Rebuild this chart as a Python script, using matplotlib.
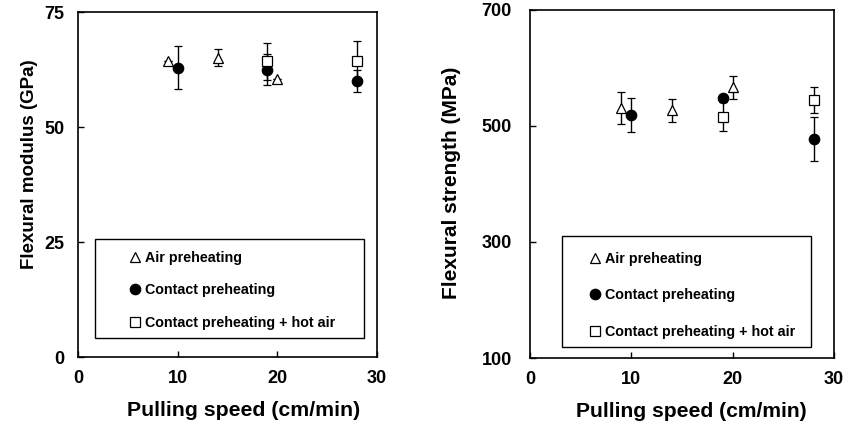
import numpy as np
import matplotlib.pyplot as plt
from matplotlib.patches import Rectangle

plt.rcParams['font.family'] = ['Liberation Sans', 'DejaVu Sans']
plt.rcParams['font.weight'] = 'bold'

# series labels
labels = ['Air preheating', 'Contact preheating', 'Contact preheating + hot air']

# flexural modulus (GPa)
air_speed = [9, 14, 20]
air_mod = [64.3, 65.1, 60.4]
air_mod_err = [0, 1.8, 0]
con_speed = [10, 19, 28]
con_mod = [62.9, 62.5, 60.0]
con_mod_err = [4.7, 3.3, 2.3]
hot_speed = [19, 28]
hot_mod = [64.3, 64.4]
hot_mod_err = [4.0, 4.3]

# flexural strength (MPa)
air_str = [531, 527, 567]
air_str_err = [27, 20, 20]
con_str = [519, 548, 477]
con_str_err = [29, 5, 38]
hot_str = [516, 545]
hot_str_err = [25, 23]

fig = plt.figure(figsize=(8.46, 4.29), dpi=100)
ax1 = fig.add_axes([0.0922, 0.1678, 0.3534, 0.8042])
ax2 = fig.add_axes([0.6265, 0.1655, 0.3593, 0.8112])


def draw(ax, ys, errs, legbox, legpos, spacing, xlab_size):
    series = [
        (air_speed, ys[0], errs[0], '^', 'white', 7.5),
        (con_speed, ys[1], errs[1], 'o', 'black', 7.5),
        (hot_speed, ys[2], errs[2], 's', 'white', 6.5),
    ]
    handles = []
    for (x, y, e, m, fc, ms), lab in zip(series, labels):
        c = ax.errorbar(x, y, yerr=e, fmt=m, color='black', mfc=fc, mec='black',
                        ms=ms, mew=0.9, ecolor='black', elinewidth=1.0,
                        capsize=3, capthick=1.0)
        handles.append(c[0])
    ax.set_xlim(0, 30)
    ax.set_xticks([0, 10, 20, 30])
    ax.tick_params(direction='in', length=4.5, width=1, labelsize=13,
                   top=False, right=False)
    for s in ax.spines.values():
        s.set_linewidth(1.2)
    ax.set_xlabel('Pulling speed (cm/min)', fontsize=xlab_size, fontweight='bold')
    # legend box
    x0, y0, x1, y1 = legbox
    ax.add_patch(Rectangle((x0, y0), x1 - x0, y1 - y0, transform=ax.transAxes,
                           fill=False, edgecolor='black', lw=1.0, zorder=1))
    ax.legend(handles, labels, loc='upper left', bbox_to_anchor=legpos,
              frameon=False, handlelength=0.8, handletextpad=0.3,
              labelspacing=spacing, borderpad=0, borderaxespad=0,
              prop={'weight': 'bold', 'size': 10.3})


draw(ax1, [air_mod, con_mod, hot_mod], [air_mod_err, con_mod_err, hot_mod_err],
     (0.057, 0.055, 0.957, 0.342), (0.173, 0.308), 1.3, 15.3)
ax1.set_ylim(0, 75)
ax1.set_yticks([0, 25, 50, 75])
ax1.tick_params(axis='y', pad=10)
ax1.tick_params(axis='x', pad=9)
ax1.set_ylabel('Flexural modulus (GPa)', fontsize=13.5, fontweight='bold')
ax1.yaxis.set_label_coords(-0.135, 0.559)
ax1.xaxis.set_label_coords(0.555, -0.128)

draw(ax2, [air_str, con_str, hot_str], [air_str_err, con_str_err, hot_str_err],
     (0.105, 0.032, 0.924, 0.351), (0.196, 0.306), 1.6, 15.2)
ax2.set_ylim(100, 700)
ax2.set_yticks([100, 300, 500, 700])
ax2.tick_params(axis='y', pad=13)
ax2.tick_params(axis='x', pad=9)
ax2.set_ylabel('Flexural strength (MPa)', fontsize=15, fontweight='bold')
ax2.yaxis.set_label_coords(-0.227, 0.503)
ax2.xaxis.set_label_coords(0.53, -0.125)

fig.savefig('out.png', dpi=100)
